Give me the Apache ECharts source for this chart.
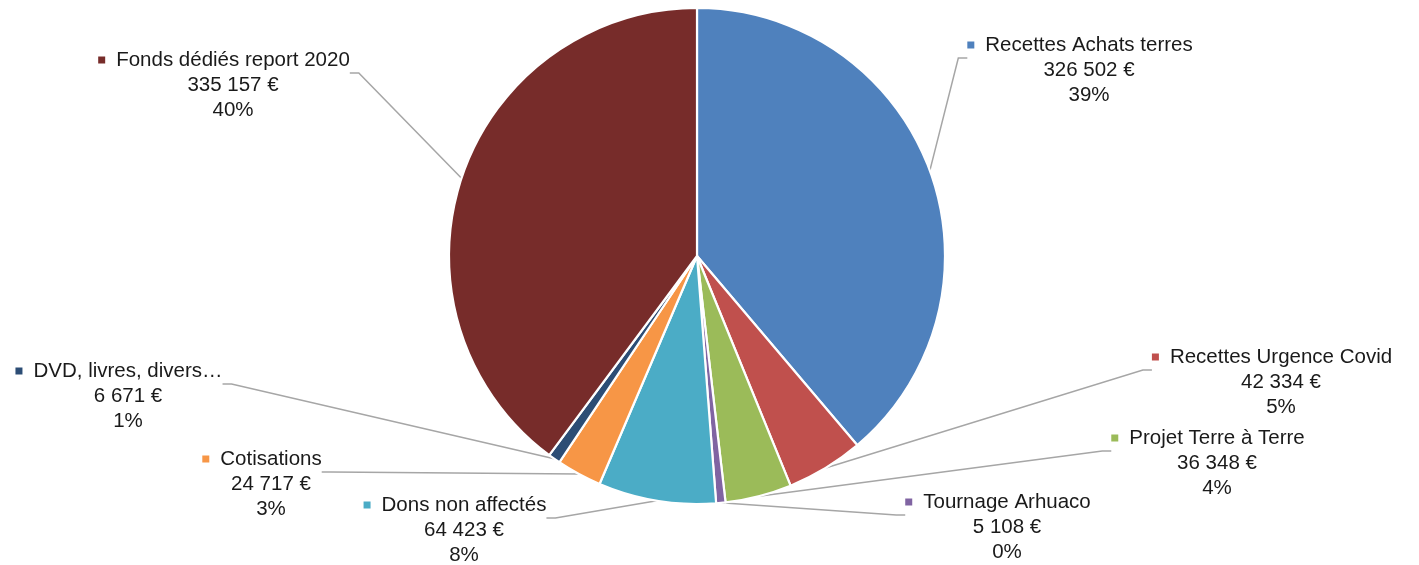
<!DOCTYPE html>
<html>
<head>
<meta charset="utf-8">
<script src="https://cdn.jsdelivr.net/npm/echarts@6/dist/echarts.min.js"></script>
<style>
html,body{margin:0;padding:0;background:#fff;}
#chart{width:1419px;height:565px;}
</style>
</head>
<body>
<div id="chart"></div>
<script>
// ---- data ----
const categories = ['Recettes Achats terres','Recettes Urgence Covid','Projet Terre à Terre','Tournage Arhuaco','Dons non affectés','Cotisations','DVD, livres, divers…','Fonds dédiés report 2020'];
const values = [326502, 42334, 36348, 5108, 64423, 24717, 6671, 335157];
const percents = [39, 5, 4, 0, 8, 3, 1, 40];
const colors = ['#4F81BD','#C0504D','#9BBB59','#8064A2','#4BACC6','#F79646','#2C4D75','#772C2A'];

// ---- label layout (screen positions of label blocks: centre x, middle of text y) ----
const labelX = [1080, 1272, 1208, 998, 455, 262, 119, 224];
const labelY = [70, 382, 463, 527, 530, 484, 396, 85];
const anchorLift = 12; // leader lines meet the label between its first and second line

function fmt(v){ return String(v).replace(/\B(?=(\d{3})+(?!\d))/g, ' ') + ' €'; }

const FONT = 'Liberation Sans, Arial, sans-serif';
const rich = {
  gap: {width: 11},
  sp: {width: 18},
  t: {fontSize: 20.5, fontFamily: FONT, color: '#1a1a1a', lineHeight: 25}
};
colors.forEach((c, i) => { rich['s' + i] = {backgroundColor: c, width: 7, height: 7, lineHeight: 25}; });

const chart = echarts.init(document.getElementById('chart'));
chart.setOption({
  backgroundColor: '#fff',
  animation: false,
  series: [{
    type: 'pie',
    center: [697, 256],
    radius: 248,
    startAngle: 90,
    clockwise: true,
    avoidLabelOverlap: false,
    data: categories.map((n, i) => ({name: n, value: values[i], itemStyle: {color: colors[i]}})),
    itemStyle: {borderColor: '#fff', borderWidth: 2.2},
    label: {
      show: true,
      position: 'outside',
      fontSize: 20.5,
      fontFamily: FONT,
      color: '#1a1a1a',
      lineHeight: 25,
      align: 'center',
      padding: [anchorLift * 2, 0, 0, 0],
      formatter: p => '{s' + p.dataIndex + '| }{gap| }{t|' + categories[p.dataIndex] + '}\n{sp| }{t|' + fmt(values[p.dataIndex]) + '}\n{sp| }{t|' + percents[p.dataIndex] + '%}',
      rich: rich
    },
    labelLine: {show: true, length: 10, length2: 9, smooth: false, lineStyle: {color: '#A6A6A6', width: 1.5}},
    labelLayout: p => ({x: labelX[p.dataIndex], y: labelY[p.dataIndex] - anchorLift, align: 'center', verticalAlign: 'middle'})
  }]
});
</script>
</body>
</html>
